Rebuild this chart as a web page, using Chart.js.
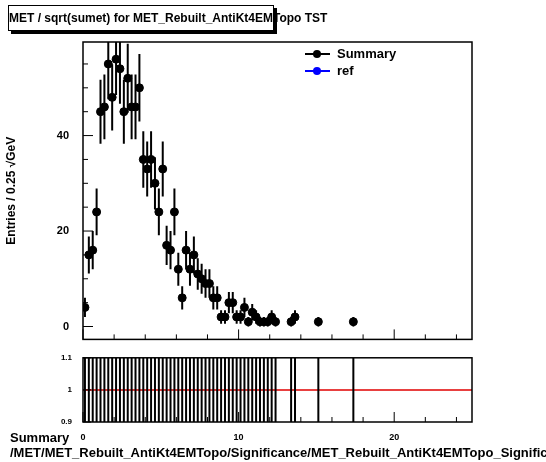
<!DOCTYPE html>
<html>
<head>
<meta charset="utf-8">
<script src="https://cdn.jsdelivr.net/npm/chart.js"></script>
<style>
  body { margin: 0; background: #fff; font-family: "Liberation Sans", Arial, sans-serif; }
  #wrap { position: relative; width: 546px; height: 462px; overflow: hidden; }
  canvas { position: absolute; left: 0; }
  .txt { position: absolute; font-weight: bold; color: #000; white-space: nowrap; }
</style>
</head>
<body>
<div id="wrap">
  <canvas id="main" width="546" height="352" style="top:0"></canvas>
  <canvas id="ratio" width="546" height="100" style="top:350px"></canvas>
  <div class="txt" style="left:8px;top:5px;width:264px;height:24px;border:1px solid #000;box-shadow:3px 3px 0 #000;background:#fff;font-size:12px;line-height:24px;text-align:center">MET / sqrt(sumet) for MET_Rebuilt_AntiKt4EMTopo TST</div>
  <div class="txt" style="left:337px;top:46px;font-size:13px">Summary</div>
  <div class="txt" style="left:337px;top:63px;font-size:13px">ref</div>
  <div class="txt" style="left:10px;top:430px;font-size:13px;line-height:15px">Summary<br>/MET/MET_Rebuilt_AntiKt4EMTopo/Significance/MET_Rebuilt_AntiKt4EMTopo_Significance</div>
</div>
<script>
const binWidth = 0.25;
const counts = {
  0: 4, 1: 15, 2: 16, 3: 24, 4: 45, 5: 46, 6: 55, 7: 48, 8: 56, 9: 54,
  10: 45, 11: 52, 12: 46, 13: 46, 14: 50, 15: 35, 16: 33, 17: 35, 18: 30, 19: 24,
  20: 33, 21: 17, 22: 16, 23: 24, 24: 12, 25: 6, 26: 16, 27: 12, 28: 15, 29: 11,
  30: 10, 31: 9, 32: 9, 33: 6, 34: 6, 35: 2, 36: 2, 37: 5, 38: 5, 39: 2,
  40: 2, 41: 4, 42: 1, 43: 3, 44: 2, 45: 1, 46: 1, 47: 1, 48: 2, 49: 1,
  53: 1, 54: 2, 60: 1, 69: 1
};
const yTickLabels = [0, 20, 40];
const xTickLabels = [0, 10, 20];
const ratioTickLabels = [0.9, 1, 1.1];

const points = Object.keys(counts).map(i => ({
  x: (Number(i) + 0.5) * binWidth, y: counts[i], err: Math.sqrt(counts[i])
}));
const ratioPoints = points.map(p => ({ x: p.x, y: 1, lo: 0.9, hi: 1.1 }));

const font = { family: "Liberation Sans", weight: "bold", size: 10 };

// error bars and ROOT-style inner ticks
const errPlugin = {
  id: "err",
  afterDatasetsDraw(chart, args, opts) {
    const c = chart.ctx, xs = chart.scales.x, ys = chart.scales.y, a = chart.chartArea;
    c.save();
    c.beginPath(); c.rect(a.left, a.top, a.right - a.left, a.bottom - a.top); c.clip();
    c.strokeStyle = "#000"; c.lineWidth = opts.lw || 2;
    chart.data.datasets[0].data.forEach(p => {
      const lo = p.lo !== undefined ? p.lo : p.y - p.err;
      const hi = p.hi !== undefined ? p.hi : p.y + p.err;
      const px = xs.getPixelForValue(p.x);
      c.beginPath(); c.moveTo(px, ys.getPixelForValue(lo)); c.lineTo(px, ys.getPixelForValue(hi)); c.stroke();
    });
    c.restore();
    c.save(); c.strokeStyle = "#000"; c.lineWidth = 1;
    for (let v = 0; v <= 25; v += 2) {
      const px = xs.getPixelForValue(v), len = v % 10 === 0 ? 10 : 5;
      if (px < a.left || px > a.right) continue;
      c.beginPath(); c.moveTo(px, a.bottom); c.lineTo(px, a.bottom - len); c.stroke();
    }
    (opts.yTicks || []).forEach(t => {
      const py = ys.getPixelForValue(t.v);
      c.beginPath(); c.moveTo(a.left, py); c.lineTo(a.left + t.len, py); c.stroke();
    });
    c.lineWidth = 1.5; c.strokeRect(a.left, a.top, a.right - a.left, a.bottom - a.top);
    c.restore();
  }
};

const mainYTicks = [];
for (let v = 0; v <= 55; v += 5) mainYTicks.push({ v, len: v % 20 === 0 ? 10 : 5 });

new Chart(document.getElementById("main"), {
  type: "scatter",
  data: { datasets: [{ data: points, pointRadius: 4, pointBackgroundColor: "#000", pointBorderColor: "#000" }] },
  plugins: [errPlugin],
  options: {
    animation: false, responsive: false,
    layout: { padding: { top: 42, right: 74, left: 0, bottom: 0 } },
    plugins: { legend: { display: false }, tooltip: { enabled: false }, err: { lw: 2, yTicks: mainYTicks } },
    scales: {
      x: { type: "linear", min: 0, max: 25, grid: { display: false }, border: { display: false },
           ticks: { display: false }, afterFit: s => { s.height = 1; } },
      y: { min: -2.7, max: 59.6, grid: { display: false }, border: { display: false },
           afterFit: s => { s.width = 83; },
           afterBuildTicks: s => { s.ticks = yTickLabels.map(v => ({ value: v })); },
           ticks: { font: { ...font, size: 11 }, color: "#000", padding: 6 },
           title: { display: true, text: "Entries / 0.25 √GeV", font: { family: "Liberation Sans", weight: "bold", size: 12 }, color: "#000", padding: { bottom: 10 } } }
    }
  }
});

// legend markers
const lg = document.getElementById("main").getContext("2d");
lg.save();
[["#000", 54], ["#0000ff", 71]].forEach(([col, y]) => {
  lg.strokeStyle = col; lg.fillStyle = col; lg.lineWidth = 2;
  lg.beginPath(); lg.moveTo(305, y); lg.lineTo(330, y); lg.stroke();
  lg.beginPath(); lg.arc(317, y, 4, 0, 2 * Math.PI); lg.fill();
});
lg.restore();

const redLine = {
  id: "red",
  beforeDatasetsDraw(chart) {
    const c = chart.ctx, a = chart.chartArea, py = chart.scales.y.getPixelForValue(1);
    c.save(); c.strokeStyle = "#e00000"; c.lineWidth = 1.5;
    c.beginPath(); c.moveTo(a.left, py); c.lineTo(a.right, py); c.stroke(); c.restore();
  }
};

new Chart(document.getElementById("ratio"), {
  type: "scatter",
  data: { datasets: [{ data: ratioPoints, pointRadius: 0 }] },
  plugins: [redLine, errPlugin],
  options: {
    animation: false, responsive: false,
    layout: { padding: { top: 7, right: 74, left: 0, bottom: 0 } },
    plugins: { legend: { display: false }, tooltip: { enabled: false },
               err: { lw: 2, yTicks: [{ v: 0.9, len: 8 }, { v: 1, len: 8 }, { v: 1.1, len: 8 }] } },
    scales: {
      x: { type: "linear", min: 0, max: 25, grid: { display: false }, border: { display: false },
           afterFit: s => { s.height = 28; },
           afterBuildTicks: s => { s.ticks = xTickLabels.map(v => ({ value: v })); },
           ticks: { font: { ...font, size: 9 }, color: "#000", padding: 2 } },
      y: { min: 0.9, max: 1.1, grid: { display: false }, border: { display: false },
           afterFit: s => { s.width = 83; },
           afterBuildTicks: s => { s.ticks = ratioTickLabels.map(v => ({ value: v })); },
           ticks: { font: { ...font, size: 8 }, color: "#000", padding: 3, callback: v => String(v) } }
    }
  }
});
</script>
</body>
</html>
